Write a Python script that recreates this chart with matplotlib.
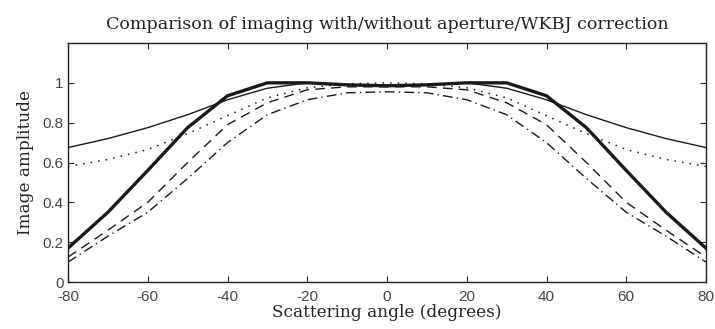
import matplotlib
matplotlib.use("Agg")
import matplotlib.pyplot as plt

plt.rcParams["axes.unicode_minus"] = False

angles = [-80, -70, -60, -50, -40, -30, -20, -10, 0, 10, 20, 30, 40, 50, 60, 70, 80]
thin_solid = [0.675, 0.72, 0.775, 0.84, 0.915, 0.973, 1.0, 0.99, 0.99, 0.99, 1.0, 0.973, 0.915, 0.84, 0.775, 0.72, 0.675]
thick_solid = [0.17, 0.35, 0.56, 0.775, 0.935, 1.0, 1.0, 0.99, 0.985, 0.99, 1.0, 1.0, 0.935, 0.775, 0.56, 0.35, 0.17]
dotted = [0.58, 0.615, 0.665, 0.745, 0.835, 0.925, 0.975, 0.995, 1.0, 0.995, 0.975, 0.925, 0.835, 0.745, 0.665, 0.615, 0.58]
dashed = [0.125, 0.26, 0.40, 0.60, 0.79, 0.90, 0.965, 0.98, 0.98, 0.98, 0.965, 0.90, 0.79, 0.60, 0.40, 0.26, 0.125]
dashdot = [0.10, 0.23, 0.35, 0.52, 0.70, 0.84, 0.915, 0.95, 0.955, 0.95, 0.915, 0.84, 0.70, 0.52, 0.35, 0.23, 0.10]

xticks = [-80, -60, -40, -20, 0, 20, 40, 60, 80]
xticklabels = ["-80", "-60", "-40", "-20", "0", "20", "40", "60", "80"]
yticks = [0, 0.2, 0.4, 0.6, 0.8, 1]
yticklabels = ["0", "0.2", "0.4", "0.6", "0.8", "1"]

fig = plt.figure(figsize=(7.15, 3.29), dpi=100)
ax = fig.add_axes([68/715, 1-282/329, (706-68)/715, (282-43)/329])

ax.plot(angles, thin_solid, color="#1a1a1a", lw=1.0, ls="-")
ax.plot(angles, thick_solid, color="#1a1a1a", lw=2.4, ls="-")
ax.plot(angles, dotted, color="#1a1a1a", lw=1.1, ls=(0, (1, 4.0)))
ax.plot(angles, dashed, color="#1a1a1a", lw=1.0, ls=(0, (7, 4.5)))
ax.plot(angles, dashdot, color="#1a1a1a", lw=1.0, ls=(0, (7, 3, 1, 3)))

ax.set_xlim(-80, 80)
ax.set_ylim(0, 1.2)
ax.set_xticks(xticks)
ax.set_xticklabels(xticklabels)
ax.set_yticks(yticks)
ax.set_yticklabels(yticklabels)
ax.tick_params(direction="in", top=True, right=True, length=4, width=0.8,
               labelsize=11, labelcolor="#444444", color="#222222")
ax.tick_params(axis="x", pad=5.5)
ax.tick_params(axis="y", pad=3)
for lab in ax.get_xticklabels() + ax.get_yticklabels():
    lab.set_family("Liberation Sans")
for s in ax.spines.values():
    s.set_linewidth(1.0)
    s.set_color("#222222")

ax.set_title("Comparison of imaging with/without aperture/WKBJ correction",
             family="DejaVu Serif", fontsize=12.6, color="#222222", pad=10)
ax.set_xlabel("Scattering angle (degrees)", family="DejaVu Serif", fontsize=12.2,
              color="#222222", labelpad=0)
ax.set_ylabel("Image amplitude", family="DejaVu Serif", fontsize=12.2,
              color="#222222", labelpad=6)

fig.savefig("out.png", dpi=100)
